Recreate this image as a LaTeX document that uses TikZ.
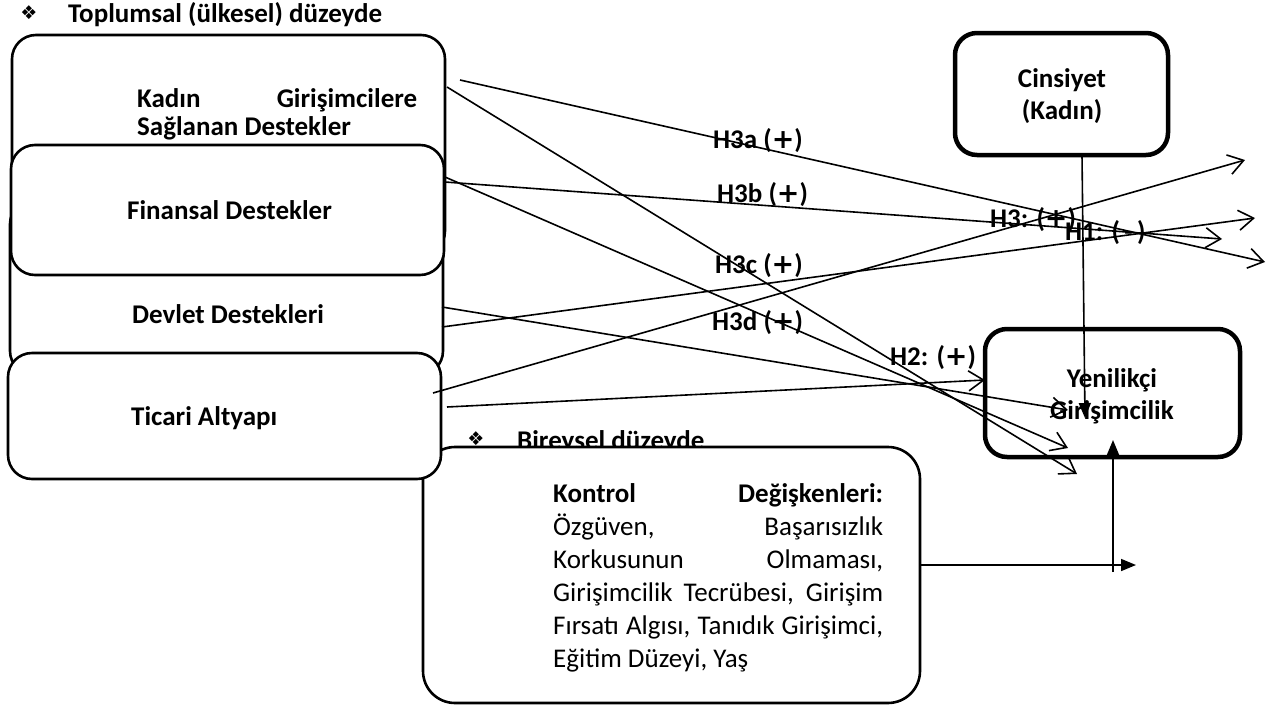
\documentclass[tikz,border=0pt]{standalone}
\usepackage{fontspec}
\setmainfont{Carlito}
\newfontfamily\dingfont{DejaVu Sans}
\usetikzlibrary{arrows.meta}

\newcommand\plussign{{\dingfont +}}

\tikzset{
  every node/.style={font=\fontsize{27}{32}\selectfont},
  lbox/.style={draw, line width=2.6pt, rounded corners=24pt, fill=white, inner sep=0pt},
  kbox/.style={draw, line width=4.5pt, rounded corners=22pt, fill=white, inner sep=0pt},
  cbox/.style={draw, line width=2.6pt, rounded corners=32pt, fill=white, inner sep=0pt},
  bline/.style={inner sep=0pt, anchor=base west, font=\fontsize{27}{32}\selectfont\bfseries},
  rline/.style={inner sep=0pt, anchor=base west},
  cline/.style={inner sep=0pt, anchor=base, font=\fontsize{27}{32}\selectfont\bfseries},
  hyp/.style={inner sep=0pt, anchor=base west, font=\fontsize{27}{32}\selectfont\bfseries},
  ding/.style={inner sep=0pt, font=\fontsize{19}{19}\dingfont},
  link/.style={line width=1.6pt, -{Straight Barb[length=15pt,width=20pt,line width=1.6pt]}},
  feed/.style={line width=1.6pt, -{Triangle[length=15pt,width=12pt]}},
}

\begin{document}
\begin{tikzpicture}[x=1pt,y=-1pt]
\useasboundingbox (0,0) rectangle (1278,710);

% level headings and left-hand support boxes
\node[ding] (d1) at (29,13) {❖};
\node[bline] (h1) at (68,22) {Toplumsal (ülkesel) düzeyde};

\node[lbox, minimum width=433pt, minimum height=220pt] (kadin) at (228.5,145) {};
\node[lbox, minimum width=433pt, minimum height=175pt] (devlet) at (226.5,287.5) {};
\node[lbox, minimum width=433pt, minimum height=130pt] (finans) at (227.5,210) {};

\node[bline] (k1) at (137,107) {\makebox[280pt][s]{Kadın Girişimcilere}};
\node[bline] (k2) at (137,135) {Sağlanan Destekler};
\node[bline] (f1) at (127,219) {Finansal Destekler};
\node[bline] (v1) at (132,323) {Devlet Destekleri};

% individual level
\node[ding] (d2) at (476,439) {❖};
\node[bline] (h2) at (517,449) {Bireysel düzeyde};
\node[cbox, minimum width=497pt, minimum height=256pt] (kontrol) at (671.5,575) {};

\node[lbox, minimum width=433pt, minimum height=126pt] (ticari) at (224.5,416) {};
\node[bline] (t1) at (131,425) {Ticari Altyapı};

\node[rline] (c1) at (553,502) {\makebox[330pt][s]{\bfseries Kontrol Değişkenleri:}};
\node[rline] (c2) at (553,535) {\makebox[330pt][s]{Özgüven, Başarısızlık}};
\node[rline] (c3) at (553,568) {\makebox[330pt][s]{Korkusunun Olmaması,}};
\node[rline] (c4) at (553,601) {\makebox[330pt][s]{Girişimcilik Tecrübesi, Girişim}};
\node[rline] (c5) at (553,634) {\makebox[330pt][s]{Fırsatı Algısı, Tanıdık Girişimci,}};
\node[rline] (c6) at (553,667) {Eğitim Düzeyi, Yaş};

% moderator and outcome
\node[kbox, minimum width=213pt, minimum height=122pt] (cins) at (1061.5,94) {};
\node[cline] (s1) at (1062,87) {Cinsiyet};
\node[cline] (s2) at (1062,119) {(Kadın)};

\node[kbox, minimum width=255pt, minimum height=128pt] (yeni) at (1112.5,393) {};
\node[cline] (y1) at (1112,387) {Yenilikçi};
\node[cline] (y2) at (1112,419) {Girişimcilik};

% connector end points
\coordinate (a1) at (460,80);   \coordinate (b1) at (1265,262);
\coordinate (a2) at (447,87);   \coordinate (b2) at (1077,474);
\coordinate (a3) at (445,177);  \coordinate (b3) at (1068,448);
\coordinate (a4) at (445,182);  \coordinate (b4) at (1222,239);
\coordinate (a5) at (442,327);  \coordinate (b5) at (1255,218);
\coordinate (a6) at (442,307);  \coordinate (b6) at (1068,410);
\coordinate (a7) at (433,393);  \coordinate (b7) at (1245,160);
\coordinate (a8) at (447,407);  \coordinate (b8) at (985,380);
\coordinate (g1) at (1082,155); \coordinate (g2) at (1085,418);
\coordinate (m1) at (920,565);  \coordinate (m2) at (1136,565);
\coordinate (u1) at (1113,572); \coordinate (u2) at (1113,440);

\draw[link] (a1) -- (b1);
\draw[link] (a2) -- (b2);
\draw[link] (a3) -- (b3);
\draw[link] (a4) -- (b4);
\draw[link] (a5) -- (b5);
\draw[link] (a6) -- (b6);
\draw[link] (a7) -- (b7);
\draw[link] (a8) -- (b8);
\draw[feed] (g1) -- (g2);
\draw[feed] (m1) -- (m2);
\draw[feed] (u1) -- (u2);

% hypothesis labels
\node[hyp] (l3a) at (713,148) {H3a (\plussign)};
\node[hyp] (l3b) at (717,202) {H3b (\plussign)};
\node[hyp] (l3c) at (715,273) {H3c (\plussign)};
\node[hyp] (l3d) at (712,330) {H3d (\plussign)};
\node[hyp] (l2) at (890,365) {H2: (\plussign)};
\node[hyp] (l3) at (990,227) {H3: (\plussign)};
\node[hyp] (l1) at (1065,240) {H1: (\,-\,)};
\end{tikzpicture}
\end{document}
